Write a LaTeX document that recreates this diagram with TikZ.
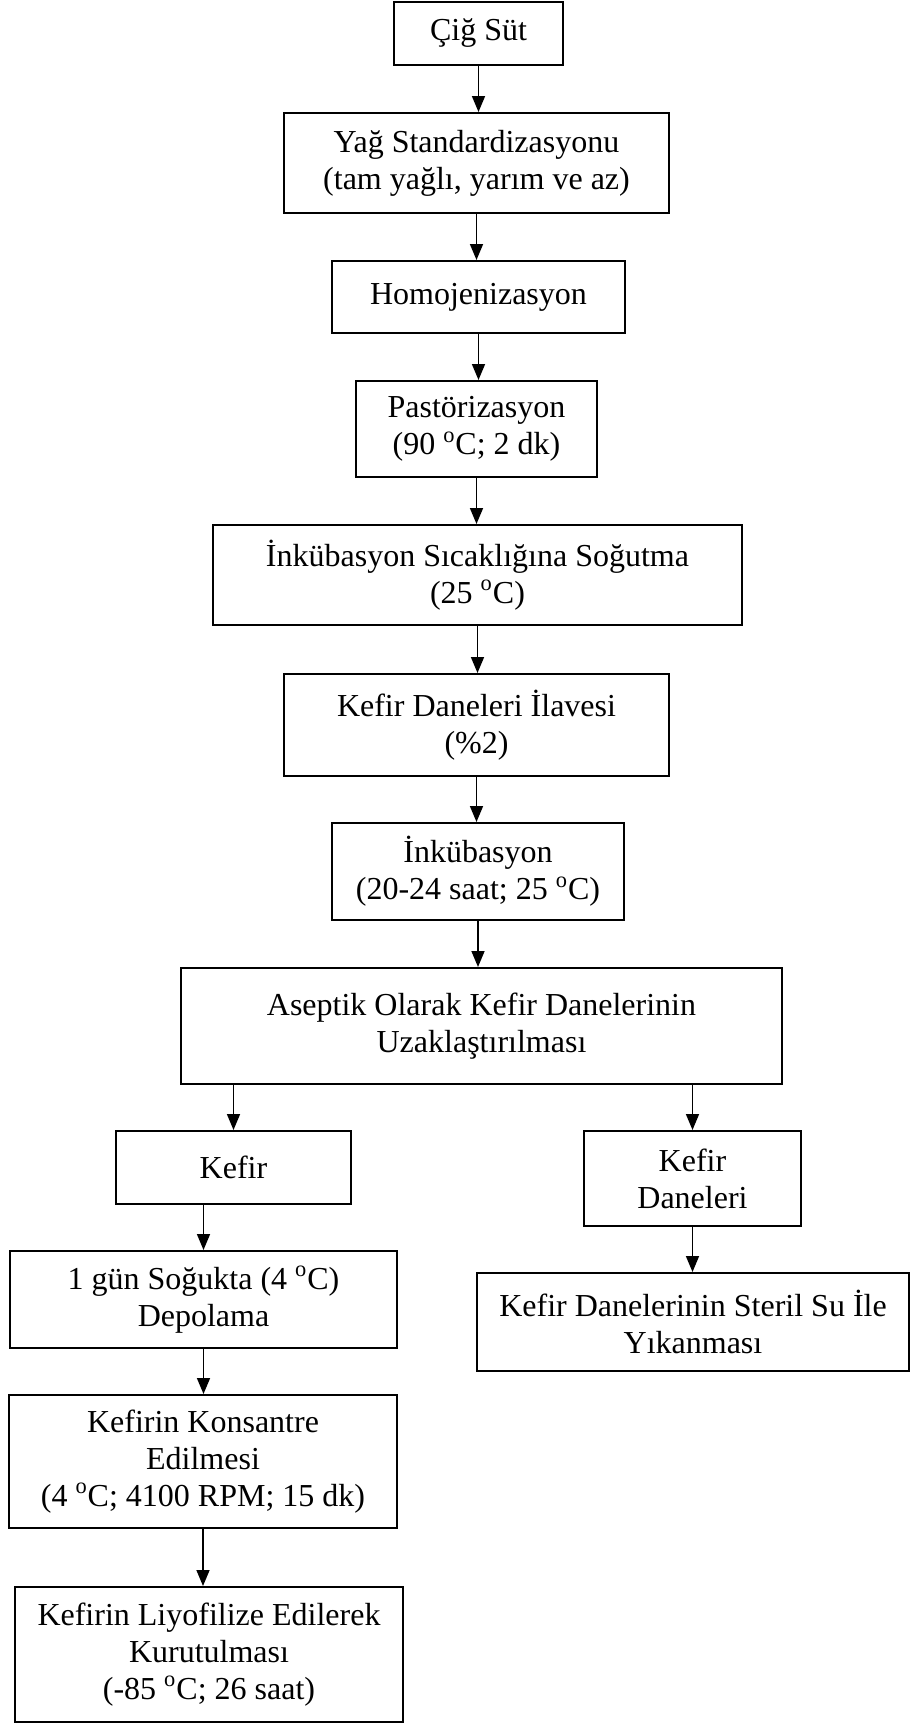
\documentclass[tikz,border=0pt]{standalone}
\usepackage{fontspec}
\setmainfont{Liberation Serif}
\usepackage{tikz}
\usetikzlibrary{arrows.meta}

\begin{document}
\begin{tikzpicture}[x=.5pt,y=-.5pt,>={Triangle[width=6.5pt,length=8pt]},
  box/.style={draw,line width=1pt,align=center,inner sep=0pt,font=\fontsize{16}{18.4}\selectfont},
  arr/.style={->,line width=.8pt}]
\useasboundingbox (0,0) rectangle (911,1724);
% main line
\node[box,minimum width=84.5pt,minimum height=31.5pt] (cig) at (478.5,33.5){Çiğ Süt};
\node[box,minimum width=192.5pt,minimum height=50pt] (yag) at (476.5,163){Yağ Standardizasyonu\\(tam yağlı, yarım ve az)};
\node[box,minimum width=146.5pt,minimum height=36pt] (homo) at (478.5,297){Homojenizasyon};
\node[box,minimum width=120.5pt,minimum height=48pt] (past) at (476.5,429){Pastörizasyon\\(90 \textsuperscript{o}C; 2 dk)};
\node[box,minimum width=264.5pt,minimum height=50pt] (sogut) at (477.5,575){İnkübasyon Sıcaklığına Soğutma\\(25 \textsuperscript{o}C)};
\node[box,minimum width=192.5pt,minimum height=51pt] (ilave) at (476.5,725){Kefir Daneleri İlavesi\\(\%2)};
\node[box,minimum width=146pt,minimum height=48.5pt] (inkub) at (478,871.5){İnkübasyon\\(20-24 saat; 25 \textsuperscript{o}C)};
\node[box,minimum width=300.5pt,minimum height=58pt] (asep) at (481.5,1026){Aseptik Olarak Kefir Danelerinin\\Uzaklaştırılması};
% left branch
\node[box,minimum width=117.5pt,minimum height=36.5pt] (kefir) at (233.5,1167.5){Kefir};
\node[box,minimum width=193.5pt,minimum height=48.5pt] (depo) at (203.5,1299.5){1 gün Soğukta (4 \textsuperscript{o}C)\\Depolama};
\node[box,minimum width=194pt,minimum height=66.5pt] (kons) at (203,1461.5){Kefirin Konsantre\\Edilmesi\\(4 \textsuperscript{o}C; 4100 RPM; 15 dk)};
\node[box,minimum width=194pt,minimum height=67.5pt] (liyo) at (209,1654.5){Kefirin Liyofilize Edilerek\\Kurutulması\\(-85 \textsuperscript{o}C; 26 saat)};
% right branch
\node[box,minimum width=108.5pt,minimum height=47.5pt] (danel) at (692.5,1178.5){Kefir\\Daneleri};
\node[box,minimum width=216pt,minimum height=49pt] (steril) at (693,1322){Kefir Danelerinin Steril Su İle\\Yıkanması};

\draw[arr] (cig.south) -- (cig.south |- yag.north);
\draw[arr] (yag.south) -- (yag.south |- homo.north);
\draw[arr] (homo.south) -- (homo.south |- past.north);
\draw[arr] (past.south) -- (past.south |- sogut.north);
\draw[arr] (sogut.south) -- (sogut.south |- ilave.north);
\draw[arr] (ilave.south) -- (ilave.south |- inkub.north);
\draw[arr] (inkub.south) -- (inkub.south |- asep.north);
\draw[arr] (kefir.north |- asep.south) -- (kefir.north);
\draw[arr] (danel.north |- asep.south) -- (danel.north);
\draw[arr] (depo.north |- kefir.south) -- (depo.north);
\draw[arr] (depo.south) -- (depo.south |- kons.north);
\draw[arr] (kons.south) -- (kons.south |- liyo.north);
\draw[arr] (danel.south) -- (danel.south |- steril.north);
\end{tikzpicture}
\end{document}
